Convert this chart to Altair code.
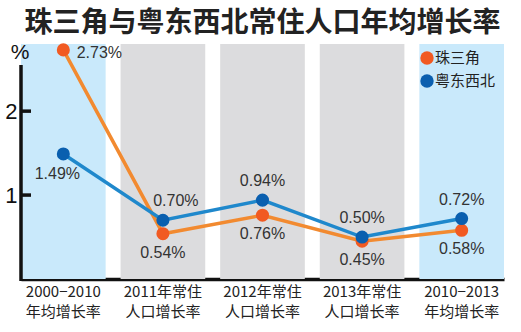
import altair as alt
import pandas as pd

categories = ["2000−2010|年均增长率", "2011年常住|人口增长率", "2012年常住|人口增长率",
              "2013年常住|人口增长率", "2010−2013|年均增长率"]
band_kind = ["avg", "year", "year", "year", "avg"]
prd = [2.73, 0.54, 0.76, 0.45, 0.58]
nw = [1.49, 0.70, 0.94, 0.50, 0.72]
series = ["珠三角", "粤东西北"]
y_ticks = [1, 2]
y_max = 2.8

bands = pd.DataFrame({"cat": categories, "kind": band_kind, "top": [y_max] * len(categories)})
rows = []
for s, vals in zip(series, [prd, nw]):
    for c, v in zip(categories, vals):
        rows.append({"cat": c, "series": s, "value": v, "label": f"{v:.2f}%"})
df = pd.DataFrame(rows)
ticks_df = pd.DataFrame({"t": y_ticks})
one = pd.DataFrame({"unit": ["%"]})
legend_df = pd.DataFrame({"series": series})

first = categories[0]
second = categories[1]
xenc = alt.X("cat:N", sort=categories,
             scale=alt.Scale(paddingInner=0.15, paddingOuter=0),
             axis=alt.Axis(title=None, labelAngle=0, labelExpr="split(datum.label, '|')",
                           ticks=False, domain=True, domainColor="#111", domainWidth=3.5,
                           labelFontSize=15, labelFont="Noto Sans CJK SC", labelColor="#222",
                           labelPadding=5, labelLineHeight=20))
yscale = alt.Scale(domain=[0, y_max], nice=False, zero=True)
cscale = alt.Scale(domain=series, range=["#F15A22", "#0A5FAF"])

band_layer = alt.Chart(bands).mark_bar().encode(
    x=xenc,
    y=alt.Y("top:Q", scale=yscale,
            axis=alt.Axis(values=y_ticks, format="d", domain=False, ticks=False, grid=False,
                          labelFontSize=22, labelFont="Liberation Sans", labelColor="#111",
                          labelPadding=4, title=None)),
    fill=alt.condition(alt.datum.kind == "avg", alt.value("#C9E9FB"), alt.value("#DCDCDE")),
)

axis_line = alt.Chart(one).mark_rule(color="#111", strokeWidth=3.5).encode(
    x=alt.value(0), y=alt.value(21), y2=alt.value(237))

unit_text = alt.Chart(one).mark_text(fontSize=21, font="Liberation Sans", color="#111",
                                     align="center", baseline="middle").encode(
    x=alt.value(-1), y=alt.value(9), text="unit:N")

tick_layer = alt.Chart(ticks_df).mark_rule(color="#111", strokeWidth=3.5).encode(
    x=alt.value(0), x2=alt.value(10), y=alt.Y("t:Q", scale=yscale, title=None))

base = alt.Chart(df).encode(
    x=alt.X("cat:N", sort=categories, title=None),
    y=alt.Y("value:Q", scale=yscale, title=None),
)

lines = base.transform_calculate(line_series="datum.series").mark_line(strokeWidth=3.5).encode(
    stroke=alt.Stroke("line_series:N",
                      scale=alt.Scale(domain=series, range=["#F28A30", "#1F88CC"]),
                      legend=None),
)
points = base.mark_circle(size=170, opacity=1).encode(
    color=alt.Color("series:N", scale=cscale, legend=None),
)

# legend entries (one per series), drawn with the shared colour scale
legend_layers = []
for s, ypix in zip(series, [14, 37]):
    sym = alt.Chart(legend_df).mark_circle(size=180, opacity=1).encode(
        x=alt.value(406), y=alt.value(ypix),
        color=alt.Color("series:N", scale=cscale, legend=None),
    ).transform_filter(alt.datum.series == s)
    lab = alt.Chart(legend_df).mark_text(fontSize=15, font="Noto Sans CJK SC", color="#222",
                                         align="left", baseline="middle").encode(
        x=alt.value(414), y=alt.value(ypix), text="series:N",
    ).transform_filter(alt.datum.series == s)
    legend_layers += [sym, lab]

tstyle = dict(fontSize=16, font="Liberation Sans", color="#333")
blue_above = base.mark_text(dy=-19, **tstyle).encode(text="label:N").transform_filter(
    (alt.datum.series == series[1]) & (alt.datum.cat != first) & (alt.datum.cat != second))
blue_second = base.mark_text(dx=13, dy=-19, **tstyle).encode(text="label:N").transform_filter(
    (alt.datum.series == series[1]) & (alt.datum.cat == second))
orange_below = base.mark_text(dy=19, **tstyle).encode(text="label:N").transform_filter(
    (alt.datum.series == series[0]) & (alt.datum.cat != first))
orange_first = base.mark_text(dx=36, dy=3, **tstyle).encode(text="label:N").transform_filter(
    (alt.datum.series == series[0]) & (alt.datum.cat == first))
blue_first = base.mark_text(dx=-6, dy=20, **tstyle).encode(text="label:N").transform_filter(
    (alt.datum.series == series[1]) & (alt.datum.cat == first))

chart = alt.layer(band_layer, axis_line, unit_text, tick_layer, lines, points,
                  blue_above, blue_second, orange_below, orange_first, blue_first,
                  *legend_layers).properties(
    width=483, height=235,
    title=alt.TitleParams("珠三角与粤东西北常住人口年均增长率", fontSize=28,
                          font="Noto Sans CJK SC", fontWeight="bold", color="#222",
                          anchor="middle", offset=4),
    autosize=alt.AutoSizeParams(type="none"),
    padding={"left": 21, "top": 44, "right": 17, "bottom": 53},
    background="white",
).configure_view(stroke=None)

chart.save("out.html", embed_options={"renderer": "svg", "actions": False})
